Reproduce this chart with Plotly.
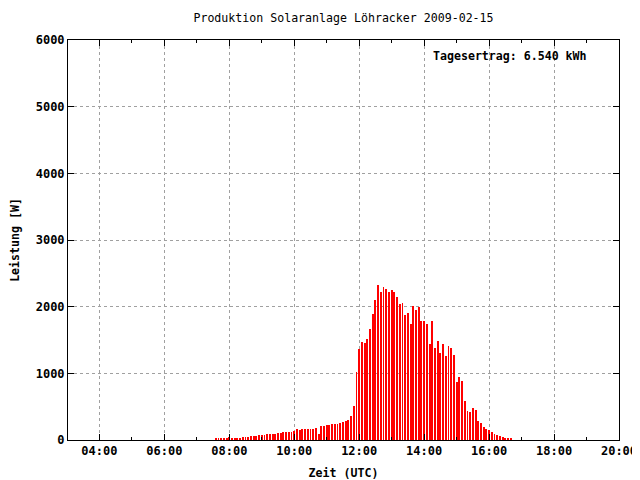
import pandas as pd
import plotly.graph_objects as go

title = "Produktion Solaranlage Löhracker 2009-02-15"
x_label = "Zeit (UTC)"
y_label = "Leistung [W]"
yield_text = "Tagesertrag: 6.540 kWh"

start_time = "2009-02-15 07:35"
power_w = [
    35, 20, 20, 35, 35, 50, 35, 35, 35, 35, 50, 50, 50, 65, 65, 65, 80, 80, 80,
    95, 95, 95, 95, 110, 110, 125, 125, 125, 125, 140,
    160, 155, 170, 170, 170, 170, 170, 185, 95, 215, 215, 230, 230, 245, 245, 245,
    260, 275, 290, 305, 365, 515, 1020,
    1370, 1475, 1460, 1520, 1670, 1895, 2105, 2330, 2225, 2300, 2270, 2225,
    2255, 2225, 2150, 2045, 2060, 1880, 1905, 1740, 2010, 1950, 1995, 1785,
    1785, 1740, 1440, 1785, 1380, 1485, 1305, 1440, 1260, 1410, 1380, 1275,
    870, 950, 890, 590, 440, 425, 485, 455, 290, 260, 200, 170,
    155, 125, 95, 80, 65, 50, 35, 35, 20,
]
times = pd.date_range(start_time, periods=len(power_w), freq="5min")

x_range = ["2009-02-15 03:02", "2009-02-15 20:00"]
y_range = [0, 6000]

FONT = "DejaVu Sans Mono"
W, H = 632, 472  # page body has an 8px margin
L, T, PW, PH = 60, 32, 551, 400

fig = go.Figure()
fig.add_trace(go.Bar(
    x=times, y=power_w, width=100000,
    marker=dict(color="#ff0000", line=dict(width=0)),
))

grid = dict(showgrid=True, gridcolor="#a0a0a0", gridwidth=1, griddash="3px,3px")
fig.update_xaxes(
    type="date", range=x_range, dtick=2 * 3600 * 1000, tick0="2009-02-15 00:00",
    tickformat="%H:%M", ticks="inside", ticklen=6, tickcolor="black",
    minor=dict(dtick=3600 * 1000, ticks="inside", ticklen=3, tickcolor="black", showgrid=False),
    showline=True, linecolor="black", linewidth=1, mirror="allticks", automargin=False,
    tickfont=dict(family=FONT, size=12, color="black", weight="bold"),
    title=dict(text=x_label, font=dict(family=FONT, size=11.6, color="black", weight="bold"), standoff=11),
    zeroline=False, **grid,
)
fig.update_yaxes(
    range=y_range, dtick=1000, ticks="inside", ticklen=6, tickcolor="black",
    showline=True, linecolor="black", linewidth=1, mirror="allticks", automargin=False,
    tickfont=dict(family=FONT, size=12, color="black", weight="bold"),
    title=dict(text=y_label, font=dict(family=FONT, size=11.6, color="black", weight="bold"), standoff=14),
    zeroline=False, **grid,
)
fig.add_annotation(
    text=yield_text, xref="paper", yref="paper", x=0.658, y=0.96,
    xanchor="left", yanchor="middle", showarrow=False,
    font=dict(family=FONT, size=11.6, color="black", weight="bold"),
)
fig.update_layout(
    width=W, height=H,
    margin=dict(l=L, r=W - L - PW, t=T, b=H - T - PH, autoexpand=False),
    paper_bgcolor="white", plot_bgcolor="white",
    title=dict(text=title, x=(L + PW / 2) / W, xanchor="center", y=1 - 10 / H, yanchor="middle",
               font=dict(family=FONT, size=11.6, color="black")),
    showlegend=False, bargap=0,
)
fig.write_html("out.html")
